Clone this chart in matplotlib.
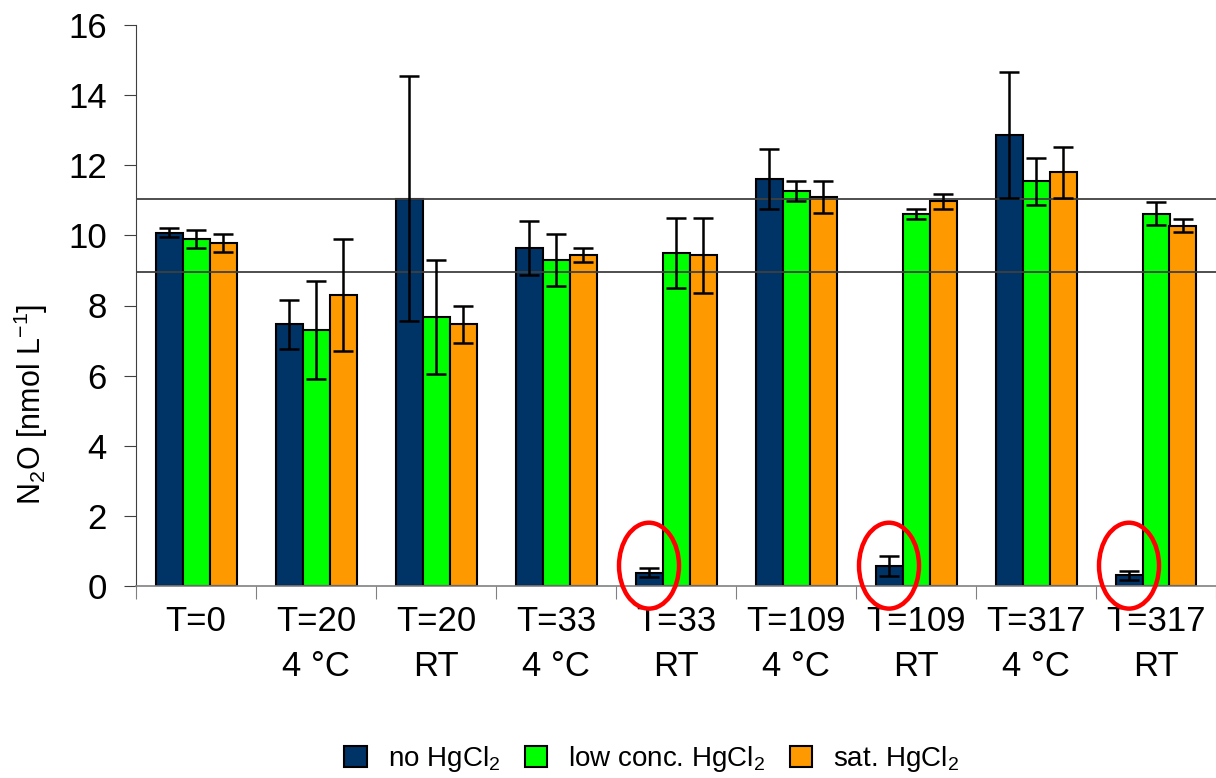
import numpy as np
import matplotlib
matplotlib.use("Agg")
import matplotlib.pyplot as plt
from matplotlib.patches import Patch, Ellipse

plt.rcParams['font.family'] = ['Liberation Sans', 'DejaVu Sans']
plt.rcParams['mathtext.fontset'] = 'custom'
plt.rcParams['mathtext.rm'] = 'Liberation Sans'
plt.rcParams['mathtext.it'] = 'Liberation Sans:italic'
plt.rcParams['mathtext.bf'] = 'Liberation Sans:bold'

## data
categories = ["T=0", "T=20\n4 °C", "T=20\nRT", "T=33\n4 °C", "T=33\nRT",
              "T=109\n4 °C", "T=109\nRT", "T=317\n4 °C", "T=317\nRT"]
no_hg = [10.08, 7.46, 11.05, 9.64, 0.38, 11.6, 0.57, 12.87, 0.30]
no_hg_err = [0.12, 0.70, 3.50, 0.78, 0.12, 0.85, 0.28, 1.80, 0.12]
low_hg = [9.90, 7.31, 7.67, 9.29, 9.50, 11.26, 10.61, 11.54, 10.62]
low_hg_err = [0.25, 1.40, 1.62, 0.74, 1.00, 0.28, 0.14, 0.67, 0.33]
sat_hg = [9.78, 8.31, 7.46, 9.43, 9.43, 11.10, 10.97, 11.80, 10.28]
sat_hg_err = [0.25, 1.60, 0.53, 0.20, 1.06, 0.45, 0.21, 0.73, 0.18]
ref_lines = [11.03, 8.95]
circled = [4, 6, 8]   ## groups where the navy bar is marked

series_labels = ["no HgCl$_2$", "low conc. HgCl$_2$", "sat. HgCl$_2$"]
colors = ["#003366", "#00FF00", "#FF9900"]

fig = plt.figure(figsize=(12.16, 7.78), dpi=100)
ax = fig.add_axes([136/1216, 1 - 586/778, 1080/1216, 561/778])

centers = np.arange(len(categories)) + 0.5
w = 0.225
offsets = [-w, 0, w]
for vals, errs, col, off in zip([no_hg, low_hg, sat_hg],
                                [no_hg_err, low_hg_err, sat_hg_err],
                                colors, offsets):
    ax.bar(centers + off, vals, width=w, color=col, edgecolor='black',
           linewidth=1.5, zorder=2)
    ax.errorbar(centers + off, vals, yerr=errs, fmt='none', ecolor='black',
                elinewidth=1.8, capsize=7, capthick=1.8, zorder=4)

for y in ref_lines:
    ax.axhline(y, color='#404040', lw=1.3, zorder=3)

## red rings round the almost empty bars
for i in circled:
    ax.add_patch(Ellipse((centers[i] - w, 0.58), 0.5, 2.45, fill=False,
                         edgecolor='#FF0000', lw=3.2, clip_on=False, zorder=6))

ax.set_xlim(0, len(categories))
ax.set_ylim(0, 16)
ax.set_yticks(np.arange(0, 17, 2))
ax.set_xticks(np.arange(0, len(categories) + 1))
ax.set_xticklabels([])
ax.set_xticks(centers, minor=True)
ax.set_xticklabels(categories, minor=True, fontsize=25, linespacing=1.45)
ax.tick_params(axis='x', which='major', length=9, color='#808080', direction='out')
ax.tick_params(axis='x', which='minor', length=0, pad=14)
ax.tick_params(axis='y', length=9, color='#404040', labelsize=25, pad=12)

for s in ['top', 'right']:
    ax.spines[s].set_visible(False)
ax.spines['left'].set_color('#404040')
ax.spines['bottom'].set_color('#808080')
ax.spines['bottom'].set_linewidth(1.2)

fig.text(31/1216, 0.48, "N$_2$O [nmol L$^{\\mathregular{-1}}$]", rotation=90,
         ha='center', va='center', fontsize=22)

handles = [Patch(facecolor=c, edgecolor='black', lw=1.5) for c in colors]
fig.legend(handles, series_labels, loc='center', bbox_to_anchor=(652/1216, 1 - 759/778),
           ncol=3, frameon=False, fontsize=20, handlelength=0.8, handleheight=0.8,
           handletextpad=0.75, columnspacing=0.9)

fig.savefig("out.png", dpi=100)
